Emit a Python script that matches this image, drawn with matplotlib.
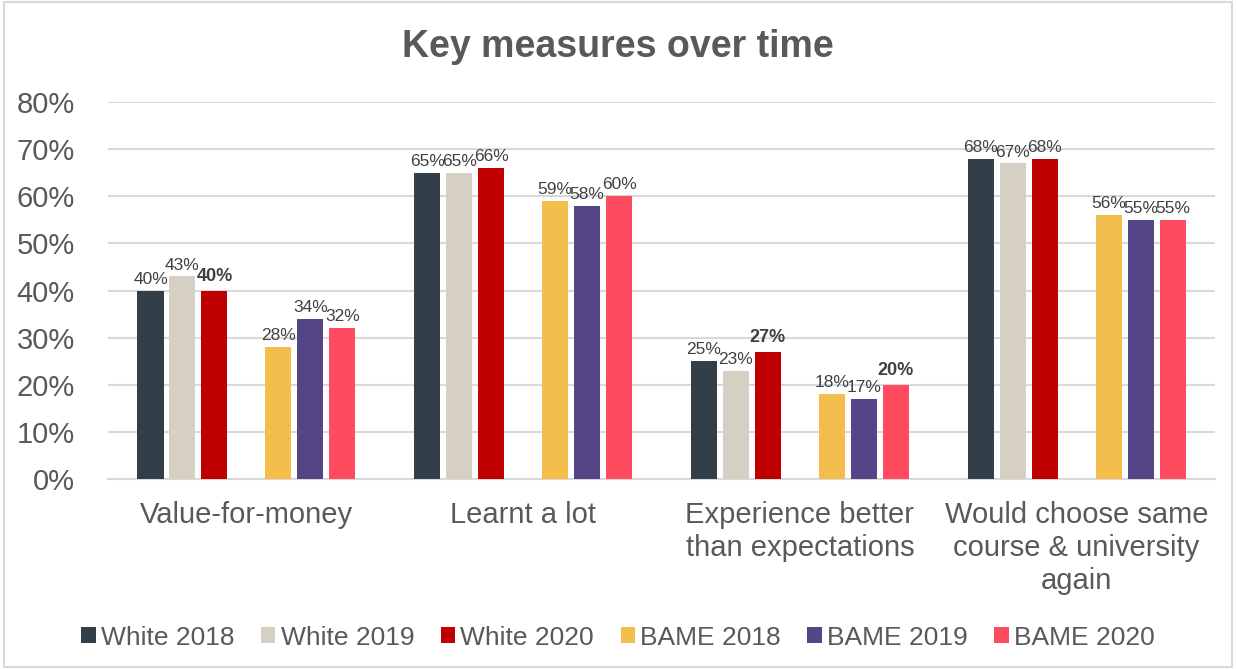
import numpy as np
import matplotlib.pyplot as plt
from matplotlib.patches import Rectangle

plt.rcParams['font.family'] = ['Liberation Sans', 'DejaVu Sans']

categories = ['Value-for-money', 'Learnt a lot', 'Experience better\nthan expectations',
              'Would choose same\ncourse & university\nagain']
series = ['White 2018', 'White 2019', 'White 2020', 'BAME 2018', 'BAME 2019', 'BAME 2020']
white_2018 = [40, 65, 25, 68]
white_2019 = [43, 65, 23, 67]
white_2020 = [40, 66, 27, 68]
bame_2018 = [28, 59, 18, 56]
bame_2019 = [34, 58, 17, 55]
bame_2020 = [32, 60, 20, 55]
values = [white_2018, white_2019, white_2020, bame_2018, bame_2019, bame_2020]
colors = ['#333F48', '#D6CFC4', '#C00000', '#F4BE4C', '#544686', '#FF4B5F']
# labels shown in bold in the original
bold = {(2, 0), (2, 2), (5, 2)}

txt = '#595959'
fig = plt.figure(figsize=(12.36, 6.69), dpi=100)
ax = fig.add_axes([0.0874, 0.284, 0.8956, 0.5635])

x = np.arange(len(categories))
slot = 0.1155
offsets = [-3, -2, -1, 1, 2, 3]
for i, (name, vals) in enumerate(zip(series, values)):
    pos = x + offsets[i] * slot
    ax.bar(pos, np.array(vals) / 100, width=0.094, color=colors[i], label=name, zorder=3)
    for j, v in enumerate(vals):
        isb = (i, j) in bold
        ax.text(pos[j], v / 100 + (0.012 if isb else 0.008), f'{v}%', ha='center', va='bottom',
                fontsize=13 if isb else 12.5,
                fontweight='bold' if isb else 'normal', color='#404040')

ax.set_xlim(-0.5, 3.5)
ax.set_ylim(0, 0.8)
ax.set_yticks(np.arange(0, 0.81, 0.1))
ax.set_yticklabels([f'{int(round(t * 100))}%' for t in np.arange(0, 0.81, 0.1)])
ax.yaxis.grid(True, color='#D9D9D9', linewidth=1.5, zorder=0)
ax.set_xticks(x)
ax.set_xticklabels(categories, linespacing=1.22)
ax.tick_params(axis='both', length=0, labelsize=21, colors=txt)
ax.tick_params(axis='y', pad=24)
ax.tick_params(axis='x', pad=16)
for s in ['top', 'right', 'left']:
    ax.spines[s].set_visible(False)
ax.spines['bottom'].set_color('#D9D9D9')
ax.spines['bottom'].set_linewidth(1.5)

fig.text(0.5, 0.93, 'Key measures over time', ha='center', va='center',
         fontsize=27, fontweight='bold', color=txt)

leg = fig.legend(loc='center', bbox_to_anchor=(0.5, 0.047), ncol=6, frameon=False,
                 fontsize=19, handlelength=0.55, handleheight=0.55, handletextpad=0.2,
                 columnspacing=1.0, labelcolor=txt)

fig.patches.append(Rectangle((0.003, 0.003), 0.994, 0.994, transform=fig.transFigure,
                             fill=False, edgecolor='#D9D9D9', linewidth=1.5))

fig.savefig('out.png', dpi=100)
